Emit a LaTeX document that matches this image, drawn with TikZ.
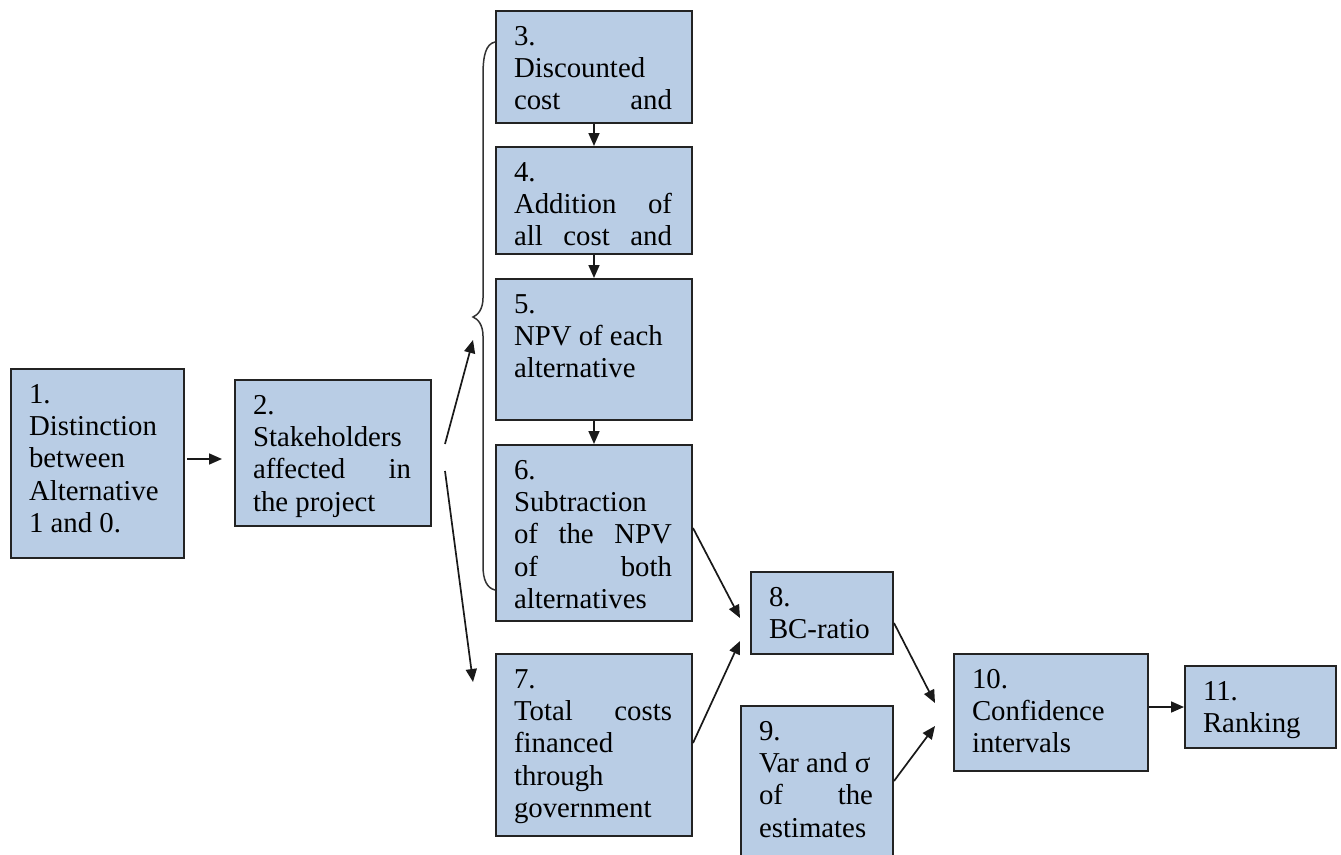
\documentclass[tikz,border=0pt]{standalone}
\usepackage{fontspec}
\setmainfont{LiberationSerif}[Extension=.ttf, UprightFont=*-Regular, BoldFont=*-Bold]
\usetikzlibrary{arrows.meta}
\definecolor{boxfill}{RGB}{185,205,229}
\definecolor{boxline}{RGB}{35,35,35}
% box body: fixed width/height, text from the top with side padding
\newcommand\stagebody[3]{\parbox[c][#2][t]{#1}{\leftskip=18pt\rightskip=20pt minus 10pt\relax\vspace*{11.5pt}\strut #3}}
\begin{document}
\begin{tikzpicture}[x=1pt,y=-1pt,
  stage/.style={draw=boxline, line width=2pt, fill=boxfill, inner sep=0pt,
    anchor=north west, font=\fontsize{28.8}{32.3}\selectfont},
  arr/.style={-{Triangle[length=13pt,width=11pt]}, line width=1.7pt, draw=black!90},
  bracepath/.style={line width=1.5pt, draw=black!80}]
\useasboundingbox (0,0) rectangle (1341,854);
\clip (0,0) rectangle (1341,854);

\node[stage] (n1) at (10,368) {\stagebody{173pt}{189pt}{1.\\ Distinction\\ between\\ Alternative\\ 1 and 0.}};
\node[stage] (n2) at (234,379) {\stagebody{196pt}{146pt}{2.\\ Stakeholders\\ affected\hfill in\\ the project}};
\node[stage] (n3) at (495,10) {\stagebody{196pt}{112pt}{3.\\ Discounted\\ cost\hfill and}};
\node[stage] (n4) at (495,146) {\stagebody{196pt}{107pt}{4.\\ Addition\hfill of\\ all\hfill cost\hfill and}};
\node[stage] (n5) at (495,278) {\stagebody{196pt}{141pt}{5.\\ NPV of each\\ alternative}};
\node[stage] (n6) at (495,444) {\stagebody{196pt}{176pt}{6.\\ Subtraction\\ of\hfill the\hfill NPV\\ of\hfill both\\ alternatives}};
\node[stage] (n7) at (495,653) {\stagebody{196pt}{182pt}{7.\\ Total\hfill costs\\ financed\\ through\\ government}};
\node[stage] (n8) at (750,571) {\stagebody{142pt}{82pt}{8.\\ BC-ratio}};
\node[stage] (n9) at (740,705) {\stagebody{152pt}{160pt}{9.\\ Var and σ\\ of\hfill the\\ estimates}};
\node[stage] (n10) at (953,653) {\stagebody{194pt}{117pt}{10.\\ Confidence\\ intervals}};
\node[stage] (n11) at (1184,665) {\stagebody{151pt}{82pt}{11.\\ Ranking}};

% curly brace grouping steps 3 to 6
\coordinate (cusp) at (473,317);
\draw[bracepath] (495,42) .. controls (486,44) and (483,55) .. (483,75)
  -- (483,298) .. controls (483,309) and (478,315) .. (cusp)
  .. controls (478,319) and (483,325) .. (483,336)
  -- (483,566) .. controls (483,580) and (487,588) .. (495,590);

% connectors
\coordinate (t7) at (473,682);
\draw[arr, shorten <=2pt, shorten >=12pt] (n1.east |- 0,459) -- (n2.west |- 0,459);
\draw[arr] ([xshift=13pt,yshift=9pt]n2.east) -- ([yshift=-23pt]cusp);
\draw[arr] ([xshift=13pt,yshift=-18pt]n2.east) -- (t7);
\draw[arr] (n3.south) -- (n4.north);
\draw[arr] (n4.south) -- (n5.north);
\draw[arr] (n5.south) -- (n6.north);
\draw[arr] ([yshift=5pt]n6.east) -- ([xshift=-10pt,yshift=-5pt]n8.west);
\draw[arr] ([yshift=2pt]n7.east) -- ([xshift=-10pt,yshift=-28pt]n8.west);
\draw[arr] ([yshift=-10pt]n8.east) -- ([xshift=-18pt,yshift=9.5pt]n10.west);
\draw[arr] ([yshift=5pt]n9.east) -- ([xshift=-18pt,yshift=-13.5pt]n10.west);
\draw[arr] (n11.west -| n10.east) -- (n11.west);
\end{tikzpicture}
\end{document}
